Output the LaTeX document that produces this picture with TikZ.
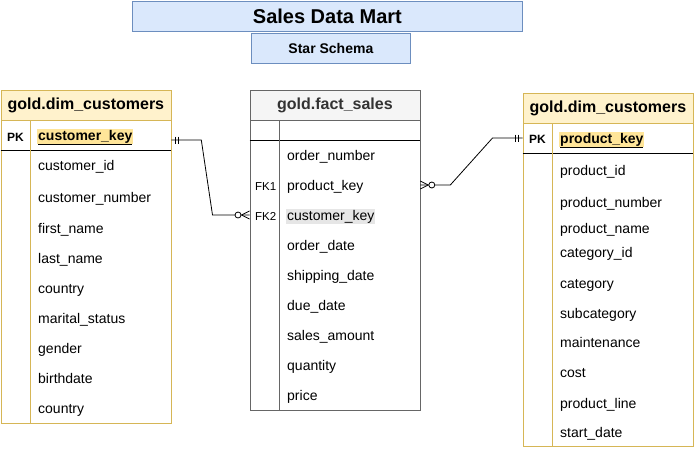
\documentclass[tikz,border=0pt]{standalone}
\usepackage{fontspec}
\setmainfont{Liberation Sans}
\usepackage{tikz}
\usetikzlibrary{positioning}
\definecolor{DimLine}{HTML}{D6B656}
\definecolor{DimFill}{HTML}{FFF2CC}
\definecolor{FactLine}{HTML}{666666}
\definecolor{FactFill}{HTML}{F5F5F5}
\definecolor{FactText}{HTML}{333333}
\definecolor{BannerLine}{HTML}{6C8EBF}
\definecolor{BannerFill}{HTML}{DAE8FC}
\definecolor{KeyMark}{HTML}{FFE599}
\definecolor{KeyGray}{HTML}{E6E6E6}

\begin{document}
\begin{tikzpicture}[x=1pt, y=-1pt]
% STYLES
\tikzset{%
    banner/.style={%
    draw=BannerLine,
    fill=BannerFill,
    line width=0.8pt,
    anchor=north west,
    inner sep=0pt,
    font=\bfseries}
    }
\tikzset{%
    dimhead/.style={%
    draw=DimLine,
    fill=DimFill,
    line width=0.8pt,
    anchor=north west,
    minimum width=170pt,
    minimum height=30pt,
    inner sep=0pt,
    font=\fontsize{16}{19}\selectfont\bfseries},
    dimbody/.style={%
    draw=DimLine,
    line width=0.8pt,
    anchor=north west,
    minimum width=170pt,
    inner sep=0pt},
    facthead/.style={%
    dimhead,
    draw=FactLine,
    fill=FactFill,
    text=FactText},
    factbody/.style={%
    dimbody,
    draw=FactLine}
    }
\tikzset{%
    field/.style={%
    anchor=west,
    inner sep=0pt,
    yshift=-1.5pt,
    text height=10pt,
    text depth=3pt,
    font=\fontsize{14}{17}\selectfont},
    keyfield/.style={%
    field,
    fill=KeyMark,
    inner sep=1pt,
    font=\fontsize{14}{17}\selectfont\bfseries},
    grayfield/.style={%
    field,
    fill=KeyGray,
    inner sep=1pt},
    keytag/.style={%
    field,
    font=\fontsize{12}{14}\selectfont\bfseries},
    fktag/.style={%
    field,
    font=\fontsize{11.5}{13}\selectfont},
    link/.style={%
    line width=0.8pt}
    }
\useasboundingbox (0,0) rectangle (700,448);

% Draw titles
\node [banner, minimum width=390pt, minimum height=30.5pt, font=\fontsize{20}{24}\selectfont\bfseries] (Mart) at (132,0.5) {Sales Data Mart};
\node [banner, minimum width=159pt, minimum height=30pt, font=\fontsize{14}{17}\selectfont\bfseries] (Schema) at (251,33) {Star Schema};

% Draw tables
\node [dimbody, minimum height=303pt] (CustBody) at (0.5,120) {};
\node [dimhead] (CustHead) at (0.5,90) {gold.dim\_customers};
\draw [link] ([yshift=-30pt]CustBody.north west) -- ([yshift=-30pt]CustBody.north east);
\draw [link, DimLine] ([xshift=30pt]CustBody.north west) -- ([xshift=30pt]CustBody.south west);

\node [factbody, minimum height=290pt] (FactBody) at (249.5,120) {};
\node [facthead] (FactHead) at (249.5,90) {gold.fact\_sales};
\draw [link] ([yshift=-20pt]FactBody.north west) -- ([yshift=-20pt]FactBody.north east);
\draw [link, FactLine] ([xshift=30pt]FactBody.north west) -- ([xshift=30pt]FactBody.south west);

\node [dimbody, minimum height=323pt] (ProdBody) at (522.5,123) {};
\node [dimhead] (ProdHead) at (522.5,93) {gold.dim\_customers};
\draw [link] ([yshift=-30pt]ProdBody.north west) -- ([yshift=-30pt]ProdBody.north east);
\draw [link, DimLine] ([xshift=30pt]ProdBody.north west) -- ([xshift=30pt]ProdBody.south west);

% Draw fields
\node [keytag] (CustPK) at (7,136) {PK};
\node [keyfield] (CustKey) at (37,135) {\underline{customer\_key}};
\node [field] (CustId) at (38,165) {customer\_id};
\node [field] (CustNumber) at (38,197) {customer\_number};
\node [field] (CustFirst) at (38,228) {first\_name};
\node [field] (CustLast) at (38,258) {last\_name};
\node [field] (CustCountry) at (38,288) {country};
\node [field] (CustMarital) at (38,318) {marital\_status};
\node [field] (CustGender) at (38,348) {gender};
\node [field] (CustBirth) at (38,378) {birthdate};
\node [field] (CustCountryB) at (38,408) {country};

\node [field] (FactOrder) at (287,155) {order\_number};
\node [fktag] (FactFKone) at (255,185) {FK1};
\node [field] (FactProduct) at (287,185) {product\_key};
\node [fktag] (FactFKtwo) at (255,215) {FK2};
\node [grayfield] (FactCustomer) at (286,215) {customer\_key};
\node [field] (FactOrderDate) at (287,245) {order\_date};
\node [field] (FactShipping) at (287,275) {shipping\_date};
\node [field] (FactDue) at (287,305) {due\_date};
\node [field] (FactAmount) at (287,335) {sales\_amount};
\node [field] (FactQuantity) at (287,365) {quantity};
\node [field] (FactPrice) at (287,395) {price};

\node [keytag] (ProdPK) at (529,138) {PK};
\node [keyfield] (ProdKey) at (559,138) {\underline{product\_key}};
\node [field] (ProdId) at (560,170) {product\_id};
\node [field] (ProdNumber) at (560,202) {product\_number};
\node [field] (ProdName) at (560,228) {product\_name};
\node [field] (ProdCatId) at (560,252) {category\_id};
\node [field] (ProdCategory) at (560,283) {category};
\node [field] (ProdSubcat) at (560,313) {subcategory};
\node [field] (ProdMaint) at (560,342) {maintenance};
\node [field] (ProdCost) at (560,372) {cost};
\node [field] (ProdLine) at (560,403) {product\_line};
\node [field] (ProdStart) at (560,432) {start\_date};

% Draw the links between tables
\coordinate (CustOut) at ([yshift=-20pt]CustBody.north east);
\coordinate (FactIn) at ([yshift=1.5pt]FactBody.west |- FactFKtwo);
\coordinate (FactOut) at ([yshift=1.5pt]FactBody.east |- FactFKone);
\coordinate (ProdIn) at ([yshift=1.5pt]ProdBody.west |- ProdPK);

\draw [link] (CustOut) -- ++(30,0) -- ([xshift=-37pt]FactIn) -- (FactIn);
\draw [link] ([xshift=4pt]CustOut) ++(0,-3.5) -- ++(0,7);
\draw [link] ([xshift=7pt]CustOut) ++(0,-3.5) -- ++(0,7);
\draw [link] ([xshift=-8pt]FactIn) -- ([yshift=4pt]FactIn)
             ([xshift=-8pt]FactIn) -- ([yshift=-4pt]FactIn);
\draw [link, fill=white] ([xshift=-11.5pt]FactIn) circle [radius=3pt];

\draw [link] (FactOut) -- ++(30,0) -- ([xshift=-30pt]ProdIn) -- (ProdIn);
\draw [link] ([xshift=-4pt]ProdIn) ++(0,-3.5) -- ++(0,7);
\draw [link] ([xshift=-7pt]ProdIn) ++(0,-3.5) -- ++(0,7);
\draw [link] ([xshift=8pt]FactOut) -- ([yshift=4pt]FactOut)
             ([xshift=8pt]FactOut) -- ([yshift=-4pt]FactOut);
\draw [link, fill=white] ([xshift=11.5pt]FactOut) circle [radius=3pt];

\end{tikzpicture}
\end{document}
